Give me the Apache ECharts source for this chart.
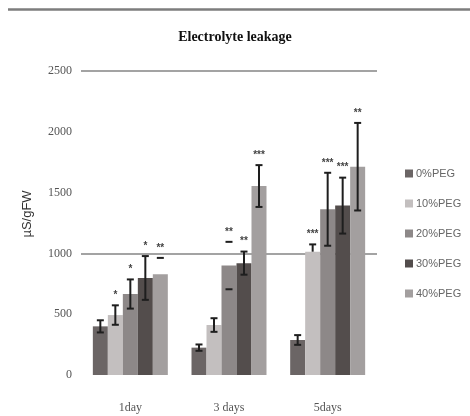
<!DOCTYPE html>
<html>
<head>
<meta charset="utf-8">
<script src="https://cdn.jsdelivr.net/npm/echarts@6/dist/echarts.min.js"></script>
<style>
  html, body { margin: 0; padding: 0; background: #fff; }
  #chart { width: 470px; height: 416px; }
</style>
</head>
<body>
<div id="chart"></div>
<script>
// data
const categories = ['1day', '3 days', '5days']
const groups = ['0%PEG', '10%PEG', '20%PEG', '30%PEG', '40%PEG']
const peg0 = [400, 225, 288]
const peg10 = [493, 411, 1014]
const peg20 = [666, 900, 1363]
const peg30 = [798, 920, 1393]
const peg40 = [828, 1554, 1713]
const err0 = [50, 26, 40]
const err10 = [80, 56, 60]
const err20 = [120, 195, 300]
const err30 = [180, 95, 230]
const err40 = [135, 172, 360]
// how much of each error bar survives in the scan: full, caps, top (cap only), upper
const errShow = [
  ['full', 'full', 'full'],
  ['full', 'full', 'upper'],
  ['full', 'caps', 'full'],
  ['full', 'full', 'full'],
  ['top', 'full', 'full'],
]
const marks = [
  ['', '', ''],
  ['*', '', '***'],
  ['*', '**', '***'],
  ['*', '**', '***'],
  ['**', '***', '**'],
]
const yTicks = { min: 0, max: 2500, step: 500 }

const values = [peg0, peg10, peg20, peg30, peg40]
const errors = [err0, err10, err20, err30, err40]
const colors = ['#6b6565', '#c3bfbf', '#8d8888', '#534d4c', '#a39f9f']
const catGap = 0.24

const chart = echarts.init(document.getElementById('chart'))

function errorItem(i) {
  return (params, api) => {
    const j = api.value(0)
    const v = api.value(1)
    const e = api.value(2)
    const band = api.size([1, 0])[0]
    const bw = band * (1 - catGap) / groups.length
    const center = api.coord([j, 0])[0]
    const x = center - band * (1 - catGap) / 2 + (i + 0.5) * bw
    const yHi = api.coord([j, v + e])[1]
    const yLo = api.coord([j, v - e])[1]
    const yV = api.coord([j, v])[1]
    const mode = errShow[i][j]
    const style = { stroke: '#1e1e1e', lineWidth: 2 }
    const cap = 3.5
    const children = []
    if (mode === 'full') {
      children.push({ type: 'line', shape: { x1: x, y1: yHi, x2: x, y2: yLo }, style })
    } else if (mode === 'upper') {
      children.push({ type: 'line', shape: { x1: x, y1: yHi, x2: x, y2: yV }, style })
    }
    children.push({ type: 'line', shape: { x1: x - cap, y1: yHi, x2: x + cap, y2: yHi }, style })
    if (mode === 'full' || mode === 'caps') {
      children.push({ type: 'line', shape: { x1: x - cap, y1: yLo, x2: x + cap, y2: yLo }, style })
    }
    const txt = marks[i][j]
    if (txt) {
      children.push({
        type: 'text',
        style: {
          text: txt, x: x, y: yHi - 5,
          align: 'center', verticalAlign: 'bottom',
          fill: '#444', font: 'bold 10px "Liberation Sans"',
        },
      })
    }
    return { type: 'group', children }
  }
}

const series = []
groups.forEach((name, i) => {
  series.push({
    name,
    type: 'bar',
    data: values[i],
    barGap: '0%',
    barCategoryGap: (catGap * 100) + '%',
    itemStyle: { color: colors[i] },
  })
})
groups.forEach((name, i) => {
  series.push({
    type: 'custom',
    silent: true,
    z: 5,
    renderItem: errorItem(i),
    data: categories.map((c, j) => [j, values[i][j], errors[i][j]]),
  })
})

const option = {
  animation: false,
  backgroundColor: '#fff',
  graphic: [
    {
      type: 'line',
      shape: { x1: 8, y1: 9.5, x2: 470, y2: 9.5 },
      style: { stroke: '#7d7d7d', lineWidth: 2.5 },
    },
  ],
  title: {
    text: 'Electrolyte leakage',
    left: 'center',
    top: 25,
    textStyle: {
      fontFamily: 'Liberation Serif',
      fontSize: 14,
      fontWeight: 'bold',
      color: '#111',
    },
  },
  legend: {
    data: groups,
    orient: 'vertical',
    left: 400,
    top: 163,
    itemWidth: 8,
    itemHeight: 8,
    itemGap: 19,
    icon: 'rect',
    textStyle: { fontFamily: 'Liberation Sans', fontSize: 11, color: '#666', padding: [0, 0, 0, -2] },
  },
  grid: { left: 81, top: 71, width: 296, height: 304, containLabel: false },
  xAxis: {
    type: 'category',
    data: categories,
    axisLine: { show: false },
    axisTick: { show: false },
    axisLabel: { margin: 27, fontFamily: 'Liberation Serif', fontSize: 12, color: '#555' },
  },
  yAxis: {
    type: 'value',
    min: yTicks.min,
    max: yTicks.max,
    interval: yTicks.step,
    name: 'µS/gFW',
    nameLocation: 'middle',
    nameGap: 47,
    nameRotate: 90,
    nameTextStyle: { fontFamily: 'Liberation Sans', fontSize: 13, color: '#333', padding: [0, 0, 0, 18] },
    axisLine: { show: false },
    axisTick: { show: false },
    axisLabel: {
      margin: 9,
      fontFamily: 'Liberation Serif',
      fontSize: 12,
      color: '#555',
      formatter: (v) => String(v),
    },
    splitLine: {
      show: true,
      // only the 1000 and 2500 lines are drawn in the reference
      lineStyle: {
        color: ['rgba(0,0,0,0)', 'rgba(0,0,0,0)', '#858585', 'rgba(0,0,0,0)', 'rgba(0,0,0,0)', '#858585'],
        width: 1.5,
      },
    },
  },
  series,
}

chart.setOption(option)
</script>
</body>
</html>
